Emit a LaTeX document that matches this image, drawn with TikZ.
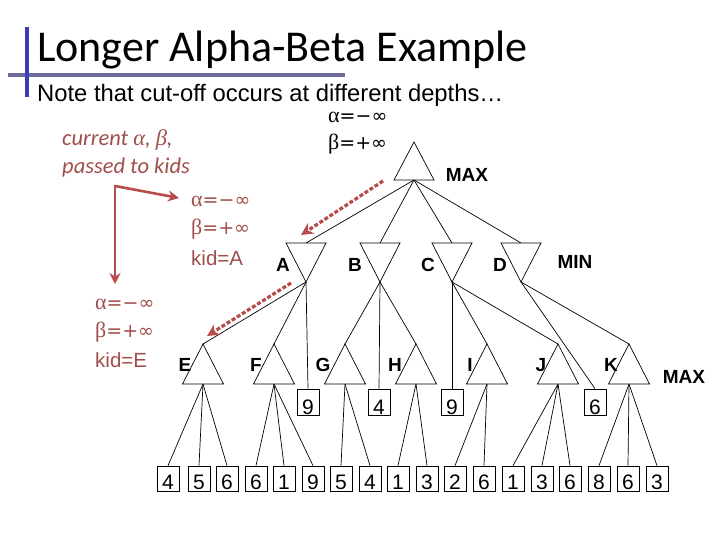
\documentclass[tikz,border=0pt]{standalone}
\usepackage{fontspec}
\usetikzlibrary{arrows.meta,calc}
\setmainfont{Liberation Sans}
\newfontfamily\ttl{Carlito}
\newfontfamily\lab{Liberation Sans}
\newfontfamily\grk{Liberation Serif}
\newfontfamily\symf{DejaVu Sans}
\definecolor{redtxt}{HTML}{A04F4D}
\definecolor{redarr}{HTML}{B84C4A}
\definecolor{vbar}{HTML}{3C3CB4}
\definecolor{hbar}{HTML}{6E6E9E}
\newcommand\amin{{\fontsize{22}{22}\selectfont\grk α}{\symf\fontsize{19}{22}\selectfont =−∞}}
\newcommand\bpls{{\fontsize{22}{22}\selectfont\grk β}{\symf\fontsize{19}{22}\selectfont =+∞}}
\tikzset{
  edge/.style={draw=black, line width=0.7pt},
  tri/.style={draw=black, line width=0.7pt, fill=white, line join=miter},
  boxleaf/.style={draw, line width=0.7pt, minimum width=22pt, minimum height=25pt, inner sep=0pt,
    text height=22pt, text depth=0pt, font=\lab\fontsize{21}{21}\selectfont},
  boxmid/.style={boxleaf, minimum height=26pt, text height=25pt},
  tlabel/.style={font=\lab\bfseries\fontsize{19}{19}\selectfont, inner sep=0pt},
  redtext/.style={text=redtxt, inner sep=0pt, anchor=west, font=\fontsize{20.5}{22}\selectfont},
  blktext/.style={text=black, inner sep=0pt, anchor=west, font=\fontsize{20.5}{22}\selectfont},
  redline/.style={draw=redarr, line width=2.6pt, -{Stealth[length=11pt,width=11pt]}},
  reddash/.style={draw=redarr, line width=3.2pt, dash pattern=on 4pt off 2pt, -{Stealth[length=12pt,width=12pt]}},
}
\begin{document}
\begin{tikzpicture}[x=1pt,y=-1pt]
\useasboundingbox[fill=white] (0,0) rectangle (720,540);
% title bars
\fill[hbar] (8,73) rectangle (345,77.5);
\fill[vbar] (25,27) rectangle (28.5,97);
\node[anchor=base west, inner sep=0pt, font=\ttl\fontsize{44}{44}\selectfont] (title) at (37,62) {Longer Alpha-Beta Example};
\node[anchor=base west, inner sep=0pt, font=\fontsize{23.8}{24}\selectfont] (sub) at (37,102) {Note that cut-off occurs at different depths…};
% red annotations
\node[anchor=base west, inner sep=0pt, text=redtxt, font=\ttl\itshape\fontsize{22.5}{22}\selectfont] (cur) at (62,146) {current {\grk\itshape α}, {\grk\itshape β},};
\node[anchor=base west, inner sep=0pt, text=redtxt, font=\ttl\itshape\fontsize{22.5}{22}\selectfont] (pass) at (62,174) {passed to kids};
\node[redtext] (ra1) at (191,201) {\amin};
\node[redtext] (rb1) at (191,229) {\bpls};
\node[redtext] (rk1) at (191,258) {kid=A};
\node[redtext] (ra2) at (95,304) {\amin};
\node[redtext] (rb2) at (95,332) {\bpls};
\node[redtext] (rk2) at (95,360) {kid=E};
\node[blktext] (ba) at (328,117) {\amin};
\node[blktext] (bb) at (328,144) {\bpls};
% tree coordinates
\coordinate (root) at (414,142);
\coordinate (rootb) at (414,180);
% boxes
\node[boxmid] (m1) at (308,402) {9};
\node[boxmid] (m2) at (379,402) {4};
\node[boxmid] (m3) at (452,402) {9};
\node[boxmid] (m4) at (595,402) {6};
\foreach \i/\x/\v in {1/168/4,2/199/5,3/227/6,4/256/6,5/284/1,6/313/9,7/341/5,8/370/4,9/398/1,10/427/3,11/455/2,12/484/6,13/513/1,14/542/3,15/570/6,16/599/8,17/628/6,18/657/3}
  \node[boxleaf] (l\i) at (\x,478.5) {\v};
% triangle coordinates
\coordinate (A) at (306,243); \coordinate (Ab) at (306,282);
\coordinate (B) at (380,243); \coordinate (Bb) at (380,282);
\coordinate (C) at (452,243); \coordinate (Cb) at (452,282);
\coordinate (D) at (521,243); \coordinate (Db) at (521,282);
\coordinate (E) at (203,344); \coordinate (Eb) at (203,384);
\coordinate (F) at (274,344); \coordinate (Fb) at (274,384);
\coordinate (G) at (345,344); \coordinate (Gb) at (345,384);
\coordinate (H) at (416,344); \coordinate (Hb) at (416,384);
\coordinate (I) at (487,344); \coordinate (Ib) at (487,384);
\coordinate (J) at (558,344); \coordinate (Jb) at (558,384);
\coordinate (K) at (629,344); \coordinate (Kb) at (629,384);
% edges
\foreach \t in {A,B,C,D} \draw[edge] (rootb) -- (\t);
\draw[edge] (Ab) -- (E); \draw[edge] (Ab) -- (F); \draw[edge] (Ab) -- (m1.north);
\draw[edge] (Bb) -- (G); \draw[edge] (Bb) -- (m2.north); \draw[edge] (Bb) -- (H);
\draw[edge] (Cb) -- (m3.north); \draw[edge] (Cb) -- (I); \draw[edge] (Cb) -- (J);
\draw[edge] (Db) -- (m4.north); \draw[edge] (Db) -- (K);
\foreach \s/\t in {Eb/l1,Eb/l2,Eb/l3,Fb/l4,Fb/l5,Fb/l6,Gb/l7,Gb/l8,Hb/l9,Hb/l10,Ib/l11,Ib/l12,Jb/l13,Jb/l14,Jb/l15,Kb/l16,Kb/l17,Kb/l18}
  \draw[edge] (\s) -- (\t.north);
% triangles
\draw[tri] (root) -- (394,180) -- (434,180) -- cycle;
\foreach \t/\x in {A/306,B/380,C/452,D/521}
  \draw[tri] (\t b) -- (\x-20,243) -- (\x+20,243) -- cycle;
\foreach \t/\x in {E/203,F/274,G/345,H/416,I/487,J/558,K/629}
  \draw[tri] (\t) -- (\x-20.5,384) -- (\x+20.5,384) -- cycle;
% labels
\node[tlabel] (lmax1) at (467,175) {MAX};
\node[tlabel] (lmin) at (575,262) {MIN};
\node[tlabel] (lmax2) at (684,377) {MAX};
\foreach \t/\x in {A/283,B/355,C/428,D/500}
  \node[tlabel] (lab\t) at (\x,265) {\t};
\foreach \t/\x in {E/185,F/256,G/323,H/395,I/470,J/541,K/611}
  \node[tlabel] (lab\t) at (\x,365) {\t};
% red arrows
\coordinate (elbow) at (115,186);
\coordinate (tipA) at (179,198);
\coordinate (tipE) at (115,284);
\draw[redline] (elbow) -- (tipA);
\draw[redline] (elbow) -- (tipE);
\fill[redarr] (113.7,184.7) rectangle (116.3,187.3);
\coordinate (d1s) at (383,181); \coordinate (d1e) at (301,235);
\coordinate (d2s) at (291,283); \coordinate (d2e) at (207,336);
\draw[reddash] (d1s) -- (d1e);
\draw[reddash] (d2s) -- (d2e);
\end{tikzpicture}
\end{document}
